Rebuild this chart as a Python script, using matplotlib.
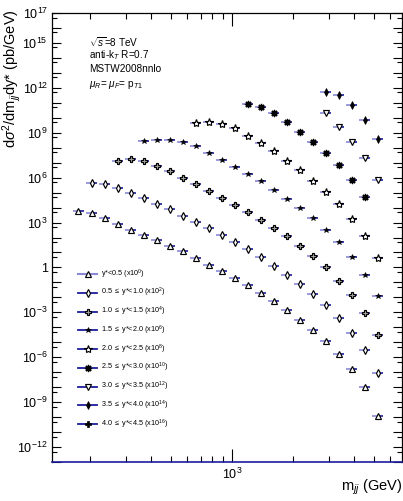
import matplotlib
matplotlib.use('Agg')
import matplotlib.pyplot as plt
from matplotlib import font_manager
from matplotlib.ticker import FixedLocator, FuncFormatter, NullFormatter
import numpy as np

# ---------------- data ----------------
# dijet-mass bin edges (GeV)
mjj_edges = [163, 189, 219, 254, 294, 341, 395, 458, 530, 615, 712, 826, 957,
             1109, 1285, 1489, 1726, 2000, 2318, 2686, 3113, 3608, 4181, 4844, 5613]

series_labels = [
    r"y*<0.5 (x10$^{0}$)",
    r"0.5 $\leq$ y*<1.0 (x10$^{2}$)",
    r"1.0 $\leq$ y*<1.5 (x10$^{4}$)",
    r"1.5 $\leq$ y*<2.0 (x10$^{6}$)",
    r"2.0 $\leq$ y*<2.5 (x10$^{8}$)",
    r"2.5 $\leq$ y*<3.0 (x10$^{10}$)",
    r"3.0 $\leq$ y*<3.5 (x10$^{12}$)",
    r"3.5 $\leq$ y*<4.0 (x10$^{14}$)",
    r"4.0 $\leq$ y*<4.5 (x10$^{16}$)",
]
# index of the first populated bin for each series
series_first_bin = [0, 1, 3, 5, 9, 13, 19, 19, 0]

# plotted (scaled) cross sections, pb/GeV
ystar_00_05 = [5.66e3, 4.17e3, 1.94e3, 771, 326, 158, 70.3, 25.1, 11.7, 4.17, 1.42,
               0.541, 0.194, 0.0631, 0.0185, 5.41e-3, 1.36e-3, 3.07e-4, 6.31e-5,
               1.17e-5, 1.58e-6, 1.66e-7, 1.05e-8, 1.2e-10]
ystar_05_10 = [4.30e5, 3.80e5, 2.06e5, 1.0e5, 4.44e4, 1.77e4, 7.59e3, 2.80e3, 1.11e3,
               417, 151, 48.6, 15.8, 4.65, 1.30, 0.331, 0.0818, 0.0158, 3.07e-3,
               3.98e-4, 4.10e-5, 2.84e-6, 9.5e-8]
ystar_10_15 = [1.36e7, 1.85e7, 1.22e7, 6.03e6, 2.59e6, 8.97e5, 3.57e5, 1.36e5, 4.65e4,
               1.58e4, 5.41e3, 1.54e3, 430, 120, 26.3, 5.41, 1.0, 0.132, 0.0140,
               9.55e-4, 3.26e-5]
ystar_15_20 = [2.71e8, 3.41e8, 3.41e8, 2.51e8, 1.22e8, 4.30e7, 1.54e7, 5.41e6, 1.77e6,
               5.66e5, 1.51e5, 3.98e4, 8.97e3, 1.94e3, 331, 47.9, 4.79, 0.331, 0.0122]
ystar_20_25 = [4.17e9, 5.41e9, 3.69e9, 2.22e9, 6.50e8, 2.0e8, 5.85e7, 1.30e7, 3.26e6,
               6.31e5, 1.17e5, 1.85e4, 1.85e3, 130, 4.44]
ystar_25_30 = [8.57e10, 4.86e10, 1.94e10, 5.41e9, 1.11e9, 2.59e8, 4.44e7, 6.81e6,
               7.36e5, 5.16e4]
ystar_30_35 = [2.15e10, 2.25e9, 2.59e8, 2.06e7, 7.36e5]
ystar_35_40 = [5.41e11, 3.57e11, 7.03e10, 7.13e9, 3.69e8]
ystar_40_45 = []

series_values = [ystar_00_05, ystar_05_10, ystar_10_15, ystar_15_20, ystar_20_25,
                 ystar_25_30, ystar_30_35, ystar_35_40, ystar_40_45]

y_major_labels = [17, 15, 12, 9, 6, 3, 0, -3, -6, -9, -12]

# ---------------- style ----------------
names = {f.name for f in font_manager.fontManager.ttflist}
NARROW = 'Liberation Sans Narrow' if 'Liberation Sans Narrow' in names else 'Liberation Sans'
REG = 'Liberation Sans'
narrow_ok = NARROW != REG

plt.rcParams['font.family'] = [NARROW, 'DejaVu Sans']
plt.rcParams['mathtext.fontset'] = 'custom'
plt.rcParams['mathtext.rm'] = NARROW
plt.rcParams['mathtext.it'] = NARROW + ':italic'
plt.rcParams['mathtext.bf'] = NARROW + ':bold'
plt.rcParams['mathtext.sf'] = NARROW

LAV = '#8a8ad8'
NAVY = '#1c1c9c'

styles = [
    dict(marker='^', ms=4.5, mfc='white', mec='black', mew=0.85),
    dict(marker='d', ms=4.0, mfc='white', mec='black', mew=0.85),
    dict(marker='P', ms=4.8, mfc='#a8a8a8', mec='black', mew=0.85),
    dict(marker='*', ms=4.0, mfc='black', mec='black', mew=0.4),
    dict(marker='*', ms=6.0, mfc='white', mec='black', mew=0.85),
    dict(marker=(8, 2, 0), ms=5.2, mfc='black', mec='black', mew=0.85),
    dict(marker='v', ms=4.8, mfc='white', mec='black', mew=0.85),
    dict(marker='d', ms=3.7, mfc='black', mec='black', mew=0.5),
    dict(marker='P', ms=4.8, mfc='black', mec='black', mew=0.5),
]

fig = plt.figure(figsize=(4.03, 5.01), dpi=100)
ax = fig.add_axes([52 / 403, 39 / 501, 350 / 403, 449 / 501])
ax.set_xscale('log')
ax.set_yscale('log')
ax.set_xlim(130, 6870)
ax.set_ylim(1e-13, 1e17)

edges = np.array(mjj_edges, dtype=float)
for k, vals in enumerate(series_values):
    if len(vals) == 0:
        continue
    i0 = series_first_bin[k]
    lo = edges[i0:i0 + len(vals)]
    hi = edges[i0 + 1:i0 + 1 + len(vals)]
    xc = np.sqrt(lo * hi)
    v = np.array(vals)
    ax.hlines(v, lo * 1.012, xc, color=LAV, lw=1.2, zorder=2)
    ax.hlines(v, xc, hi / 1.012, color=NAVY, lw=1.2, zorder=2)
    ax.plot(xc, v, ls='none', zorder=3, **styles[k])
    if k == 5:
        ax.plot(xc, v, ls='none', marker='s', ms=2.7, mfc='black', mec='black', zorder=4)

# ticks
ax.yaxis.set_major_locator(FixedLocator([10.0 ** k for k in range(-13, 18)]))
ax.yaxis.set_minor_locator(FixedLocator([5 * 10.0 ** k for k in range(-14, 17)]))


def yfmt(val, pos):
    k = int(round(np.log10(val)))
    if k not in y_major_labels:
        return ''
    if k == 0:
        return '1'
    return r'$10^{%d}$' % k


ax.yaxis.set_major_formatter(FuncFormatter(yfmt))
ax.yaxis.set_minor_formatter(NullFormatter())
ax.xaxis.set_major_locator(FixedLocator([1000]))
ax.xaxis.set_minor_locator(FixedLocator([200, 300, 400, 500, 600, 700, 800, 900,
                                         2000, 3000, 4000, 5000, 6000]))
ax.xaxis.set_major_formatter(FuncFormatter(lambda v, p: r'$10^{3}$'))
ax.xaxis.set_minor_formatter(NullFormatter())

tick_fs = 10 if narrow_ok else 9.0
ax.tick_params(which='both', direction='in', top=True, right=True, width=0.8,
               labelsize=tick_fs, colors='black')
ax.tick_params(axis='y', which='major', length=6.8, pad=3)
ax.tick_params(axis='y', which='minor', length=3.6)
ax.tick_params(axis='x', which='major', length=9.5, pad=3.5)
ax.tick_params(axis='x', which='minor', length=4.3)
for sp in ax.spines.values():
    sp.set_linewidth(0.9)
ax.spines['bottom'].set_color(NAVY)
ax.spines['bottom'].set_linewidth(1.2)

# axis titles
fig.text(12 / 403, 1 - 9 / 501, r'd$\sigma^{2}$/dm$_{jj}$dy* (pb/GeV)',
         rotation=90, ha='center', va='top', fontsize=10.5, family=REG)
fig.text(402 / 403, 1 - 487 / 501, r'm$_{jj}$ (GeV)', ha='right', va='center',
         fontsize=10.5, family=NARROW)

# annotation block
ann = [r'$\sqrt{s}$=8 TeV', r'anti-k$_{T}$ R=0.7', 'MSTW2008nnlo',
       r'$\mu_{R}$= $\mu_{F}$= p$_{T1}$']
ann_y = [42, 55.5, 69.5, 85]
ann_fs = 8.2 if narrow_ok else 7.2
for t, yy in zip(ann, ann_y):
    fig.text(89 / 403, 1 - yy / 501, t, ha='left', va='center', fontsize=ann_fs, family=NARROW)

# legend drawn by hand
leg_fs = 5.8 if narrow_ok else 5.2
for k, lab in enumerate(series_labels):
    yy = 1 - (274 + 18.75 * k) / 501
    x0, x1, xm = 78 / 403, 97 / 403, 87.5 / 403
    if k == 0:
        fig.add_artist(plt.Line2D([x0, x1], [yy, yy], color=LAV, lw=1.5, transform=fig.transFigure))
    else:
        fig.add_artist(plt.Line2D([x0, x1], [yy, yy], color=NAVY, lw=1.3, transform=fig.transFigure))
    st = dict(styles[k])
    fig.add_artist(plt.Line2D([xm], [yy], ls='none', transform=fig.transFigure, **st))
    if k == 5:
        fig.add_artist(plt.Line2D([xm], [yy], ls='none', marker='s', ms=2.7, mfc='black',
                                  mec='black', transform=fig.transFigure))
    fig.text(101 / 403, yy, lab, ha='left', va='center', fontsize=leg_fs, family=NARROW)

fig.savefig('out.png', dpi=100)
